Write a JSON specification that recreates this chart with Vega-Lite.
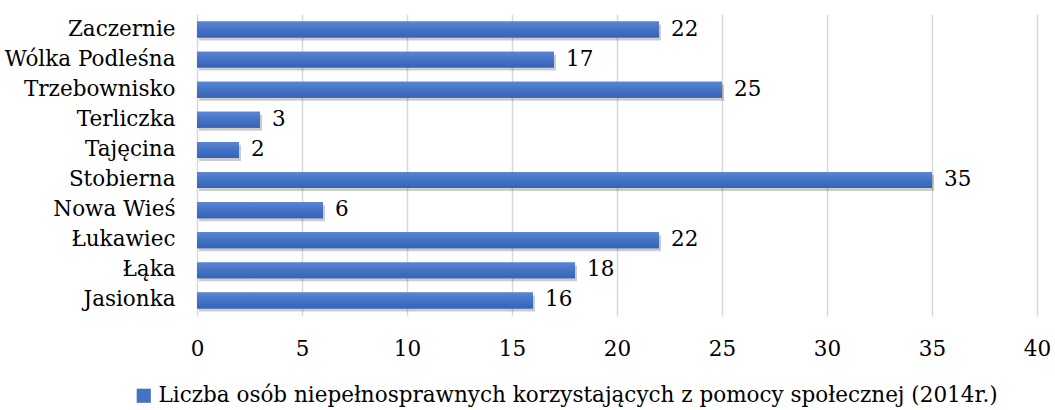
{
  "$schema": "https://vega.github.io/schema/vega-lite/v6.json",
  "width": 840,
  "height": 302,
  "autosize": {"type": "none"},
  "padding": {"left": 197, "top": 14, "right": 18, "bottom": 94},
  "background": "white",
  "config": {
    "view": {"stroke": null},
    "font": "DejaVu Serif",
    "axis": {"labelFont": "DejaVu Serif", "labelColor": "#000000", "labelFontSize": 21.5},
    "legend": {"labelFont": "DejaVu Serif", "labelFontSize": 21.5, "labelColor": "#000000"}
  },
  "data": {
    "values": [
      {"miejscowosc": "Zaczernie", "wartosc": 22, "seria": "Liczba osób niepełnosprawnych korzystających z pomocy społecznej (2014r.)"},
      {"miejscowosc": "Wólka Podleśna", "wartosc": 17, "seria": "Liczba osób niepełnosprawnych korzystających z pomocy społecznej (2014r.)"},
      {"miejscowosc": "Trzebownisko", "wartosc": 25, "seria": "Liczba osób niepełnosprawnych korzystających z pomocy społecznej (2014r.)"},
      {"miejscowosc": "Terliczka", "wartosc": 3, "seria": "Liczba osób niepełnosprawnych korzystających z pomocy społecznej (2014r.)"},
      {"miejscowosc": "Tajęcina", "wartosc": 2, "seria": "Liczba osób niepełnosprawnych korzystających z pomocy społecznej (2014r.)"},
      {"miejscowosc": "Stobierna", "wartosc": 35, "seria": "Liczba osób niepełnosprawnych korzystających z pomocy społecznej (2014r.)"},
      {"miejscowosc": "Nowa Wieś", "wartosc": 6, "seria": "Liczba osób niepełnosprawnych korzystających z pomocy społecznej (2014r.)"},
      {"miejscowosc": "Łukawiec", "wartosc": 22, "seria": "Liczba osób niepełnosprawnych korzystających z pomocy społecznej (2014r.)"},
      {"miejscowosc": "Łąka", "wartosc": 18, "seria": "Liczba osób niepełnosprawnych korzystających z pomocy społecznej (2014r.)"},
      {"miejscowosc": "Jasionka", "wartosc": 16, "seria": "Liczba osób niepełnosprawnych korzystających z pomocy społecznej (2014r.)"}
    ]
  },
  "encoding": {
    "y": {
      "field": "miejscowosc",
      "type": "nominal",
      "sort": null,
      "scale": {"paddingInner": 0.47, "paddingOuter": 0.25},
      "axis": {"title": null, "ticks": false, "domain": false, "labelPadding": 22, "labelFontSize": 21.5}
    },
    "x": {
      "field": "wartosc",
      "type": "quantitative",
      "scale": {"domain": [0, 40]},
      "axis": {
        "title": null,
        "values": [0, 5, 10, 15, 20, 25, 30, 35, 40],
        "ticks": false,
        "domain": false,
        "grid": true,
        "gridColor": "#d9d9d9",
        "gridWidth": 1.5,
        "labelPadding": 22,
        "labelFlush": false,
        "labelOverlap": false,
        "labelFontSize": 21.5
      }
    }
  },
  "layer": [
    {
      "mark": {"type": "bar", "color": "#000000", "opacity": 0.2, "xOffset": 2, "yOffset": 3}
    },
    {
      "mark": {"type": "bar"},
      "encoding": {
        "color": {
          "field": "seria",
          "type": "nominal",
          "scale": {"range": ["#4472C4"]},
          "legend": {
            "title": null,
            "orient": "none",
            "legendX": -64,
            "legendY": 371,
            "symbolType": "square",
            "symbolSize": 200,
            "symbolOpacity": 1,
            "labelFontSize": 21.5,
            "labelOffset": 4,
            "labelLimit": 1000
          }
        }
      }
    },
    {
      "mark": {
        "type": "bar",
        "color": {
          "gradient": "linear",
          "x1": 0, "y1": 0, "x2": 0, "y2": 1,
          "stops": [
            {"offset": 0, "color": "#5a86d4"},
            {"offset": 0.5, "color": "#4472C4"},
            {"offset": 1, "color": "#3563b8"}
          ]
        }
      }
    },
    {
      "mark": {"type": "text", "align": "left", "baseline": "middle", "dx": 12, "fontSize": 21.5, "color": "#000000"},
      "encoding": {"text": {"field": "wartosc", "type": "quantitative"}}
    }
  ]
}
